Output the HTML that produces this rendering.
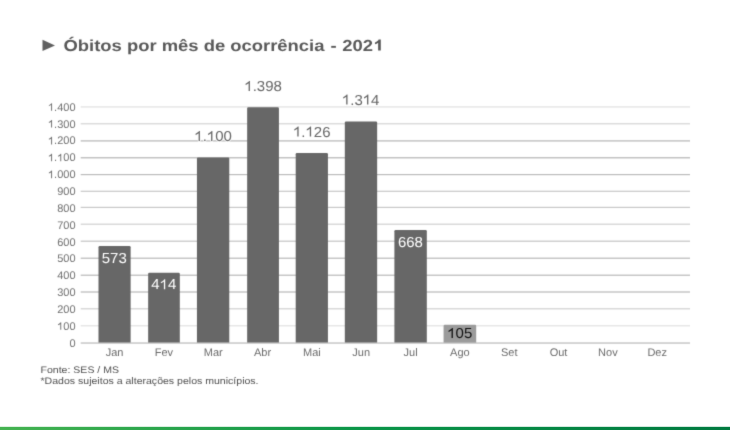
<!DOCTYPE html>
<html><head><meta charset="utf-8"><style>
html,body{margin:0;padding:0;background:#fff;width:730px;height:430px;overflow:hidden;position:relative}
svg{position:absolute;left:0;top:0}
#chart{will-change:transform}
text{text-rendering:geometricPrecision}
.green{position:absolute;left:0;top:427px;width:730px;height:3px;background:linear-gradient(to right,#45b351,#0a9548 50%,#007a40)}
.green2{position:absolute;left:0;top:426px;width:730px;height:1px;background:linear-gradient(to right,#45b351,#0a9548 50%,#007a40);opacity:.18}
</style></head><body>
<svg id="chart" width="730" height="430" viewBox="0 0 730 430">
<defs><filter id="bl" x="0" y="0" width="730" height="430" filterUnits="userSpaceOnUse" color-interpolation-filters="sRGB"><feConvolveMatrix order="3" kernelMatrix="0.01440 0.09120 0.01440 0.09120 0.57760 0.09120 0.01440 0.09120 0.01440" edgeMode="none"/></filter></defs>
<g filter="url(#bl)">
<rect x="80.7" y="325.20" width="609.3" height="1.2" fill="#e0e0e0"/>
<rect x="80.7" y="308.20" width="609.3" height="1.2" fill="#d0d0d0"/>
<rect x="80.7" y="291.40" width="609.3" height="1.2" fill="#b8b8b8"/>
<rect x="80.7" y="274.60" width="609.3" height="1.2" fill="#b8b8b8"/>
<rect x="80.7" y="257.60" width="609.3" height="1.2" fill="#b8b8b8"/>
<rect x="80.7" y="240.60" width="609.3" height="1.2" fill="#c4c4c4"/>
<rect x="80.7" y="223.60" width="609.3" height="1.2" fill="#d0d0d0"/>
<rect x="80.7" y="206.80" width="609.3" height="1.2" fill="#c8c8c8"/>
<rect x="80.7" y="190.70" width="609.3" height="1.2" fill="#c8c8c8"/>
<rect x="80.7" y="174.00" width="609.3" height="1.2" fill="#bcbcbc"/>
<rect x="80.7" y="157.20" width="609.3" height="1.2" fill="#b4b4b4"/>
<rect x="80.7" y="140.30" width="609.3" height="1.2" fill="#b4b4b4"/>
<rect x="80.7" y="123.20" width="609.3" height="1.2" fill="#d4d4d4"/>
<rect x="80.7" y="106.30" width="609.3" height="1.2" fill="#e0e0e0"/>
<path d="M98.50,343.0 L98.50,247.29 Q98.50,246.09 99.70,246.09 L129.43,246.09 Q130.63,246.09 130.63,247.29 L130.63,343.0 Z" fill="#676767"/>
<path d="M148.16,343.0 L148.16,274.03 Q148.16,272.83 149.36,272.83 L178.61,272.83 Q179.81,272.83 179.81,274.03 L179.81,343.0 Z" fill="#676767"/>
<path d="M196.93,343.0 L196.93,158.66 Q196.93,157.46 198.13,157.46 L228.08,157.46 Q229.28,157.46 229.28,158.66 L229.28,343.0 Z" fill="#676767"/>
<path d="M247.16,343.0 L247.16,108.54 Q247.16,107.34 248.36,107.34 L277.73,107.34 Q278.93,107.34 278.93,108.54 L278.93,343.0 Z" fill="#676767"/>
<path d="M295.70,343.0 L295.70,154.29 Q295.70,153.09 296.90,153.09 L326.73,153.09 Q327.93,153.09 327.93,154.29 L327.93,343.0 Z" fill="#676767"/>
<path d="M344.81,343.0 L344.81,122.67 Q344.81,121.47 346.01,121.47 L375.96,121.47 Q377.16,121.47 377.16,122.67 L377.16,343.0 Z" fill="#676767"/>
<path d="M394.40,343.0 L394.40,231.32 Q394.40,230.12 395.60,230.12 L425.61,230.12 Q426.81,230.12 426.81,231.32 L426.81,343.0 Z" fill="#676767"/>
<path d="M443.58,343.0 L443.58,326.00 Q443.58,324.80 444.78,324.80 L475.00,324.80 Q476.20,324.80 476.20,326.00 L476.20,343.0 Z" fill="#9b9b9b"/>
<rect x="80.7" y="342.40" width="609.3" height="1.3" fill="#bfbfbf"/>
<text id="y0" x="75.5" y="346.7" text-anchor="end" style="font:11px &quot;Liberation Sans&quot;,sans-serif" fill="#707070">0</text>
<text id="y1" x="75.5" y="329.84" text-anchor="end" style="font:11px &quot;Liberation Sans&quot;,sans-serif" fill="#707070"> 00</text><path d="M763 0L583 0L583 1090Q500 1010 380 945Q260 880 170 850L170 1035Q340 1115 470 1220Q600 1325 650 1409L763 1409Z" fill="#707070" transform="translate(57.141 329.84) scale(0.005371 -0.005371)"/>
<text id="y2" x="75.5" y="312.99" text-anchor="end" style="font:11px &quot;Liberation Sans&quot;,sans-serif" fill="#707070">200</text>
<text id="y3" x="75.5" y="296.13" text-anchor="end" style="font:11px &quot;Liberation Sans&quot;,sans-serif" fill="#707070">300</text>
<text id="y4" x="75.5" y="279.27" text-anchor="end" style="font:11px &quot;Liberation Sans&quot;,sans-serif" fill="#707070">400</text>
<text id="y5" x="75.5" y="262.42" text-anchor="end" style="font:11px &quot;Liberation Sans&quot;,sans-serif" fill="#707070">500</text>
<text id="y6" x="75.5" y="245.56" text-anchor="end" style="font:11px &quot;Liberation Sans&quot;,sans-serif" fill="#707070">600</text>
<text id="y7" x="75.5" y="228.7" text-anchor="end" style="font:11px &quot;Liberation Sans&quot;,sans-serif" fill="#707070">700</text>
<text id="y8" x="75.5" y="211.84" text-anchor="end" style="font:11px &quot;Liberation Sans&quot;,sans-serif" fill="#707070">800</text>
<text id="y9" x="75.5" y="194.99" text-anchor="end" style="font:11px &quot;Liberation Sans&quot;,sans-serif" fill="#707070">900</text>
<text id="y10" x="75.5" y="178.13" text-anchor="end" style="font:11px &quot;Liberation Sans&quot;,sans-serif" fill="#707070"> .000</text><path d="M763 0L583 0L583 1090Q500 1010 380 945Q260 880 170 850L170 1035Q340 1115 470 1220Q600 1325 650 1409L763 1409Z" fill="#707070" transform="translate(47.969 178.13) scale(0.005371 -0.005371)"/>
<text id="y11" x="75.5" y="161.27" text-anchor="end" style="font:11px &quot;Liberation Sans&quot;,sans-serif" fill="#707070"> . 00</text><path d="M763 0L583 0L583 1090Q500 1010 380 945Q260 880 170 850L170 1035Q340 1115 470 1220Q600 1325 650 1409L763 1409Z" fill="#707070" transform="translate(47.969 161.27) scale(0.005371 -0.005371)"/><path d="M763 0L583 0L583 1090Q500 1010 380 945Q260 880 170 850L170 1035Q340 1115 470 1220Q600 1325 650 1409L763 1409Z" fill="#707070" transform="translate(57.141 161.27) scale(0.005371 -0.005371)"/>
<text id="y12" x="75.5" y="144.42" text-anchor="end" style="font:11px &quot;Liberation Sans&quot;,sans-serif" fill="#707070"> .200</text><path d="M763 0L583 0L583 1090Q500 1010 380 945Q260 880 170 850L170 1035Q340 1115 470 1220Q600 1325 650 1409L763 1409Z" fill="#707070" transform="translate(47.969 144.42) scale(0.005371 -0.005371)"/>
<text id="y13" x="75.5" y="127.56" text-anchor="end" style="font:11px &quot;Liberation Sans&quot;,sans-serif" fill="#707070"> .300</text><path d="M763 0L583 0L583 1090Q500 1010 380 945Q260 880 170 850L170 1035Q340 1115 470 1220Q600 1325 650 1409L763 1409Z" fill="#707070" transform="translate(47.969 127.56) scale(0.005371 -0.005371)"/>
<text id="y14" x="75.5" y="110.7" text-anchor="end" style="font:11px &quot;Liberation Sans&quot;,sans-serif" fill="#707070"> .400</text><path d="M763 0L583 0L583 1090Q500 1010 380 945Q260 880 170 850L170 1035Q340 1115 470 1220Q600 1325 650 1409L763 1409Z" fill="#707070" transform="translate(47.969 110.7) scale(0.005371 -0.005371)"/>
<g transform="translate(114.3 0) scale(1.034 1) translate(-114.3 0)"><text id="d0" x="114.3" y="262.5" text-anchor="middle" style="font:14.5px &quot;Liberation Sans&quot;,sans-serif" fill="#ffffff">573</text></g>
<g transform="translate(163.8 0) scale(1.034 1) translate(-163.8 0)"><text id="d1" x="163.8" y="289.3" text-anchor="middle" style="font:14.5px &quot;Liberation Sans&quot;,sans-serif" fill="#ffffff">4 4</text><path d="M763 0L583 0L583 1090Q500 1010 380 945Q260 880 170 850L170 1035Q340 1115 470 1220Q600 1325 650 1409L763 1409Z" fill="#ffffff" transform="translate(159.761 289.3) scale(0.007080 -0.007080)"/></g>
<g transform="translate(213.1 0) scale(1.034 1) translate(-213.1 0)"><text id="d2" x="213.1" y="141" text-anchor="middle" style="font:14.5px &quot;Liberation Sans&quot;,sans-serif" fill="#666666" stroke="#fff" stroke-width="1.5" paint-order="stroke" stroke-linejoin="round"> . 00</text><path d="M763 0L583 0L583 1090Q500 1010 380 945Q260 880 170 850L170 1035Q340 1115 470 1220Q600 1325 650 1409L763 1409Z" fill="#666666" transform="translate(194.952 141) scale(0.007080 -0.007080)" stroke="#fff" stroke-width="211.9" paint-order="stroke" stroke-linejoin="round"/><path d="M763 0L583 0L583 1090Q500 1010 380 945Q260 880 170 850L170 1035Q340 1115 470 1220Q600 1325 650 1409L763 1409Z" fill="#666666" transform="translate(207.030 141) scale(0.007080 -0.007080)" stroke="#fff" stroke-width="211.9" paint-order="stroke" stroke-linejoin="round"/></g>
<g transform="translate(263.1 0) scale(1.034 1) translate(-263.1 0)"><text id="d3" x="263.1" y="91" text-anchor="middle" style="font:14.5px &quot;Liberation Sans&quot;,sans-serif" fill="#666666" stroke="#fff" stroke-width="1.5" paint-order="stroke" stroke-linejoin="round"> .398</text><path d="M763 0L583 0L583 1090Q500 1010 380 945Q260 880 170 850L170 1035Q340 1115 470 1220Q600 1325 650 1409L763 1409Z" fill="#666666" transform="translate(244.952 91) scale(0.007080 -0.007080)" stroke="#fff" stroke-width="211.9" paint-order="stroke" stroke-linejoin="round"/></g>
<g transform="translate(311.8 0) scale(1.034 1) translate(-311.8 0)"><text id="d4" x="311.8" y="136.5" text-anchor="middle" style="font:14.5px &quot;Liberation Sans&quot;,sans-serif" fill="#666666" stroke="#fff" stroke-width="1.5" paint-order="stroke" stroke-linejoin="round"> . 26</text><path d="M763 0L583 0L583 1090Q500 1010 380 945Q260 880 170 850L170 1035Q340 1115 470 1220Q600 1325 650 1409L763 1409Z" fill="#666666" transform="translate(293.652 136.5) scale(0.007080 -0.007080)" stroke="#fff" stroke-width="211.9" paint-order="stroke" stroke-linejoin="round"/><path d="M763 0L583 0L583 1090Q500 1010 380 945Q260 880 170 850L170 1035Q340 1115 470 1220Q600 1325 650 1409L763 1409Z" fill="#666666" transform="translate(305.730 136.5) scale(0.007080 -0.007080)" stroke="#fff" stroke-width="211.9" paint-order="stroke" stroke-linejoin="round"/></g>
<g transform="translate(360.7 0) scale(1.034 1) translate(-360.7 0)"><text id="d5" x="360.7" y="104.5" text-anchor="middle" style="font:14.5px &quot;Liberation Sans&quot;,sans-serif" fill="#666666" stroke="#fff" stroke-width="1.5" paint-order="stroke" stroke-linejoin="round"> .3 4</text><path d="M763 0L583 0L583 1090Q500 1010 380 945Q260 880 170 850L170 1035Q340 1115 470 1220Q600 1325 650 1409L763 1409Z" fill="#666666" transform="translate(342.552 104.5) scale(0.007080 -0.007080)" stroke="#fff" stroke-width="211.9" paint-order="stroke" stroke-linejoin="round"/><path d="M763 0L583 0L583 1090Q500 1010 380 945Q260 880 170 850L170 1035Q340 1115 470 1220Q600 1325 650 1409L763 1409Z" fill="#666666" transform="translate(362.708 104.5) scale(0.007080 -0.007080)" stroke="#fff" stroke-width="211.9" paint-order="stroke" stroke-linejoin="round"/></g>
<g transform="translate(410.4 0) scale(1.034 1) translate(-410.4 0)"><text id="d6" x="410.4" y="247" text-anchor="middle" style="font:14.5px &quot;Liberation Sans&quot;,sans-serif" fill="#ffffff">668</text></g>
<g transform="translate(459.8 0) scale(1.034 1) translate(-459.8 0)"><text id="d7" x="459.8" y="338" text-anchor="middle" style="font:14.5px &quot;Liberation Sans&quot;,sans-serif" fill="#111111"> 05</text><path d="M763 0L583 0L583 1090Q500 1010 380 945Q260 880 170 850L170 1035Q340 1115 470 1220Q600 1325 650 1409L763 1409Z" fill="#111111" transform="translate(447.698 338) scale(0.007080 -0.007080)"/></g>
<text id="x0" x="114.6" y="355.7" text-anchor="middle" style="font:11px &quot;Liberation Sans&quot;,sans-serif" fill="#6a6a6a">Jan</text>
<text id="x1" x="163.93" y="355.7" text-anchor="middle" style="font:11px &quot;Liberation Sans&quot;,sans-serif" fill="#6a6a6a">Fev</text>
<text id="x2" x="213.25" y="355.7" text-anchor="middle" style="font:11px &quot;Liberation Sans&quot;,sans-serif" fill="#6a6a6a">Mar</text>
<text id="x3" x="262.58" y="355.7" text-anchor="middle" style="font:11px &quot;Liberation Sans&quot;,sans-serif" fill="#6a6a6a">Abr</text>
<text id="x4" x="311.91" y="355.7" text-anchor="middle" style="font:11px &quot;Liberation Sans&quot;,sans-serif" fill="#6a6a6a">Mai</text>
<text id="x5" x="361.24" y="355.7" text-anchor="middle" style="font:11px &quot;Liberation Sans&quot;,sans-serif" fill="#6a6a6a">Jun</text>
<text id="x6" x="410.56" y="355.7" text-anchor="middle" style="font:11px &quot;Liberation Sans&quot;,sans-serif" fill="#6a6a6a">Jul</text>
<text id="x7" x="459.89" y="355.7" text-anchor="middle" style="font:11px &quot;Liberation Sans&quot;,sans-serif" fill="#6a6a6a">Ago</text>
<text id="x8" x="509.22" y="355.7" text-anchor="middle" style="font:11px &quot;Liberation Sans&quot;,sans-serif" fill="#6a6a6a">Set</text>
<text id="x9" x="558.54" y="355.7" text-anchor="middle" style="font:11px &quot;Liberation Sans&quot;,sans-serif" fill="#6a6a6a">Out</text>
<text id="x10" x="607.87" y="355.7" text-anchor="middle" style="font:11px &quot;Liberation Sans&quot;,sans-serif" fill="#6a6a6a">Nov</text>
<text id="x11" x="657.2" y="355.7" text-anchor="middle" style="font:11px &quot;Liberation Sans&quot;,sans-serif" fill="#6a6a6a">Dez</text>
</g>
</svg>
<svg id="top" width="730" height="430" viewBox="0 0 730 430">
<defs><filter id="bl2" x="0" y="0" width="730" height="430" filterUnits="userSpaceOnUse" color-interpolation-filters="sRGB"><feConvolveMatrix order="3" kernelMatrix="0.01440 0.09120 0.01440 0.09120 0.57760 0.09120 0.01440 0.09120 0.01440" edgeMode="none"/></filter></defs>
<g filter="url(#bl2)">
<polygon points="42.5,39.8 55,45.4 42.5,50.9" fill="#606060"/>
<g transform="translate(63.5 0) scale(1.151 1) translate(-63.5 0)"><text id="ttl" x="63.5" y="50.6" text-anchor="start" style="font:bold 16px &quot;Liberation Sans&quot;,sans-serif" fill="#595959">Óbitos por mês de ocorrência <tspan dx="0.8">-</tspan><tspan dx="0.5"> 202 </tspan></text><path d="M860 0L565 0L565 1010Q420 875 215 810L215 1052Q325 1088 452 1186Q580 1285 628 1409L860 1409Z" fill="#595959" transform="translate(332.441 50.6) scale(0.007812 -0.007812)"/></g>
<g transform="translate(40.5 0) scale(1.11 1) translate(-40.5 0)"><text id="ft1" x="40.5" y="372.9" text-anchor="start" style="font:9.5px &quot;Liberation Sans&quot;,sans-serif" fill="#505050">Fonte: SES / MS</text></g>
<g transform="translate(40.5 0) scale(1.11 1) translate(-40.5 0)"><text id="ft2" x="40.5" y="384.3" text-anchor="start" style="font:9.5px &quot;Liberation Sans&quot;,sans-serif" fill="#505050">*Dados sujeitos a alterações pelos municípios.</text></g>
</g>
</svg>
<div class="green2"></div><div class="green"></div>
</body></html>
